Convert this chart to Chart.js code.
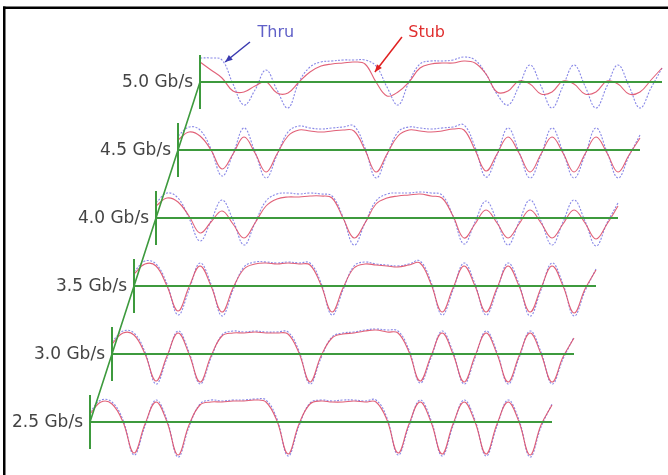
<!DOCTYPE html>
<html>
<head>
<meta charset="utf-8">
<script src="https://cdn.jsdelivr.net/npm/chart.js@4/dist/chart.umd.min.js"></script>
<style>
  body { margin: 0; background: #fff; }
  #wrap { width: 668px; height: 475px; }
</style>
</head>
<body>
<div id="wrap"><canvas id="myChart" width="668" height="475"></canvas></div>
<script>
// bit rates, bottom trace first
const rates = ["2.5 Gb/s", "3.0 Gb/s", "3.5 Gb/s", "4.0 Gb/s", "4.5 Gb/s", "5.0 Gb/s"];

// sample positions along a trace (unit intervals from its start)
const ui = [0, 0.5, 1, 1.5, 2, 2.5, 3, 3.5, 4, 4.5, 5, 5.5, 6, 6.5, 7, 7.5, 8, 8.5, 9, 9.5, 10,
  10.5, 11, 11.5, 12, 12.5, 13, 13.5, 14, 14.5, 15, 15.5, 16, 16.5, 17, 17.5, 18, 18.5, 19, 19.5, 20, 20.5, 21];

// waveform level above each trace's baseline, one array per rate and path
const thru25 = [10, 22, 20, 2, -33, -4, 22, 2, -35, -5, 18, 22, 21, 22, 22, 23, 22, 3, -34, -4, 19, 22, 21, 22, 22, 21, 22, 4, -33, -4, 22, 2, -34, -4, 22, 2, -34, -4, 22, 2, -35, -5, 18];
const stub25 = [8, 20, 18, 0, -31, -2, 20, 0, -33, -3, 17, 20, 20, 21, 21, 22, 20, 1, -32, -2, 18, 21, 20, 20, 21, 20, 20, 2, -31, -2, 20, 0, -32, -2, 20, 0, -32, -2, 20, 0, -33, -3, 17];
const thru30 = [12, 23, 21, 2, -30, -4, 23, 2, -30, -4, 19, 23, 22, 23, 22, 22, 22, 3, -30, -4, 17, 21, 22, 24, 25, 24, 23, 4, -29, -4, 23, 2, -30, -4, 23, 2, -30, -4, 23, 2, -30, -5, 17];
const stub30 = [10, 21, 19, 0, -27, -2, 21, 0, -28, -2, 18, 21, 21, 22, 21, 21, 20, 1, -28, -2, 16, 20, 21, 23, 24, 22, 21, 2, -27, -2, 21, 0, -28, -2, 21, 0, -28, -2, 21, 0, -28, -3, 16];
const thru35 = [14, 25, 22, 2, -29, -4, 23, 2, -30, -4, 19, 24, 24, 23, 24, 23, 23, 3, -29, -4, 20, 24, 22, 21, 20, 22, 25, 4, -29, -4, 23, 2, -29, -4, 23, 2, -30, -4, 23, 2, -30, -5, 17];
const stub35 = [12, 22, 20, 0, -25, -1, 20, 0, -26, -2, 17, 22, 23, 22, 23, 22, 21, 1, -26, -2, 18, 22, 21, 20, 19, 21, 23, 2, -26, -2, 20, 0, -26, -2, 20, 0, -26, -2, 20, 0, -27, -3, 16];
const thru40 = [15, 25, 20, 0, -23, -3, 18, -2, -27, -5, 17, 24, 25, 24, 25, 24, 22, 1, -27, -5, 17, 24, 25, 25, 26, 25, 23, 2, -26, -4, 17, -3, -27, -4, 18, -3, -27, -4, 18, -3, -28, -5, 15];
const stub40 = [12, 20, 16, 2, -15, -4, 7, -6, -20, -5, 12, 19, 21, 21, 22, 22, 20, 0, -20, -5, 14, 20, 22, 23, 24, 22, 20, 2, -20, -6, 8, -5, -20, -6, 8, -5, -20, -6, 8, -5, -21, -6, 12];
const thru45 = [14, 23, 20, 1, -26, -4, 22, -2, -28, -5, 18, 24, 22, 21, 22, 23, 24, 2, -28, -5, 18, 23, 22, 21, 22, 23, 25, 3, -27, -5, 22, -2, -28, -5, 22, -2, -28, -5, 22, -2, -28, -6, 15];
const stub45 = [10, 18, 14, 0, -19, -4, 13, -3, -22, -4, 14, 20, 19, 18, 19, 20, 19, 0, -22, -4, 14, 20, 19, 18, 19, 21, 20, 0, -21, -4, 13, -3, -22, -4, 13, -3, -22, -4, 13, -3, -22, -5, 12];
const thru50 = [24, 24, 22, -2, -23, -8, 12, -8, -26, 0, 15, 20, 21, 22, 22, 22, 16, -5, -23, 0, 18, 21, 21, 22, 25, 22, 8, -12, -23, -4, 17, -4, -26, -4, 17, -4, -26, -4, 17, -4, -26, -6, 14];
const stub50 = [20, 12, 4, -9, -10, -4, 0, -11, -11, 0, 10, 16, 18, 19, 20, 18, 0, -14, -10, 0, 14, 18, 19, 19, 21, 19, 8, -10, -9, 1, -2, -12, -10, 1, -2, -12, -10, 1, -2, -12, -10, 2, 14];

const thruSeries = [thru25, thru30, thru35, thru40, thru45, thru50];
const stubSeries = [stub25, stub30, stub35, stub40, stub45, stub50];

// each trace is shifted right by one UI and up by STEP
const STEP = 68;
const SPAN = 21;
const TICK = 27;

const colors = {
  thru: "rgba(105,105,225,0.8)",
  stub: "rgba(222,80,105,0.9)",
  green: "#3d9a3d",
  text: "#444",
};

const traceData = (vals, i) => vals.map((v, k) => ({ x: ui[k] + i, y: v + i * STEP }));

const datasets = [];
const baseline = [];
const ticks = [];
const diagonal = [];
rates.forEach((r, i) => {
  baseline.push({ x: i, y: i * STEP }, { x: i + SPAN, y: i * STEP }, { x: i + SPAN, y: null });
  ticks.push({ x: i, y: i * STEP - TICK }, { x: i, y: i * STEP + TICK }, { x: i, y: null });
  diagonal.push({ x: i, y: i * STEP });
});
datasets.push({ data: baseline, borderColor: colors.green, borderWidth: 2.2, tension: 0, order: 0 });
datasets.push({ data: ticks, borderColor: colors.green, borderWidth: 2, tension: 0, order: 0 });
datasets.push({ data: diagonal, borderColor: colors.green, borderWidth: 1.6, tension: 0, order: 0 });
rates.forEach((r, i) => {
  datasets.push({ label: r + " Thru", data: traceData(thruSeries[i], i), borderColor: colors.thru,
    borderWidth: 1.1, borderDash: [2, 1.5], tension: 0.4, order: 2 });
  datasets.push({ label: r + " Stub", data: traceData(stubSeries[i], i), borderColor: colors.stub,
    borderWidth: 1.1, tension: 0.4, order: 1 });
});

// callouts, in data units
const notes = [
  { text: "Thru", color: "#6060c8", at: [8.45, 389], from: [7.27, 380], to: [6.14, 360], arrow: "#3a3ab0" },
  { text: "Stub", color: "#e03030", at: [15.3, 389], from: [14.18, 385], to: [12.95, 350], arrow: "#e02020" },
];

const overlay = {
  id: "overlay",
  beforeDraw: (chart) => {
    const { ctx } = chart;
    ctx.save();
    ctx.fillStyle = "#000";
    ctx.fillRect(3, 6.5, 665, 2.5);
    ctx.fillRect(3, 6.5, 2.5, 470);
    ctx.restore();
  },
  afterDatasetsDraw: (chart) => {
    const { ctx, scales: { x, y } } = chart;
    ctx.save();
    ctx.font = "17px 'DejaVu Sans'";
    ctx.fillStyle = colors.text;
    ctx.textAlign = "right";
    ctx.textBaseline = "middle";
    rates.forEach((r, i) => {
      ctx.fillText(r, x.getPixelForValue(i) - 7, y.getPixelForValue(i * STEP) + 1);
    });
    ctx.font = "16px 'DejaVu Sans'";
    notes.forEach((n) => {
      ctx.fillStyle = n.color;
      ctx.textAlign = "center";
      ctx.fillText(n.text, x.getPixelForValue(n.at[0]), y.getPixelForValue(n.at[1]));
      const x1 = x.getPixelForValue(n.from[0]), y1 = y.getPixelForValue(n.from[1]);
      const x2 = x.getPixelForValue(n.to[0]), y2 = y.getPixelForValue(n.to[1]);
      ctx.strokeStyle = n.arrow;
      ctx.fillStyle = n.arrow;
      ctx.lineWidth = 1.5;
      ctx.beginPath();
      ctx.moveTo(x1, y1);
      ctx.lineTo(x2, y2);
      ctx.stroke();
      const a = Math.atan2(y2 - y1, x2 - x1);
      ctx.beginPath();
      ctx.moveTo(x2, y2);
      ctx.lineTo(x2 - 8 * Math.cos(a - 0.4), y2 - 8 * Math.sin(a - 0.4));
      ctx.lineTo(x2 - 8 * Math.cos(a + 0.4), y2 - 8 * Math.sin(a + 0.4));
      ctx.closePath();
      ctx.fill();
    });
    ctx.restore();
  },
};

const ctx = document.getElementById("myChart").getContext("2d");
new Chart(ctx, {
  type: "line",
  data: { datasets: datasets },
  plugins: [overlay],
  options: {
    responsive: false,
    animation: false,
    events: [],
    layout: { padding: 0 },
    elements: { point: { radius: 0 } },
    plugins: { legend: { display: false }, tooltip: { enabled: false } },
    scales: {
      // 22 px per UI, 2.5 Gb/s trace starts at (90, 422)
      x: { type: "linear", display: false, min: -90 / 22, max: (668 - 90) / 22 },
      y: { type: "linear", display: false, min: 422 - 475, max: 422 },
    },
  },
});
</script>
</body>
</html>
